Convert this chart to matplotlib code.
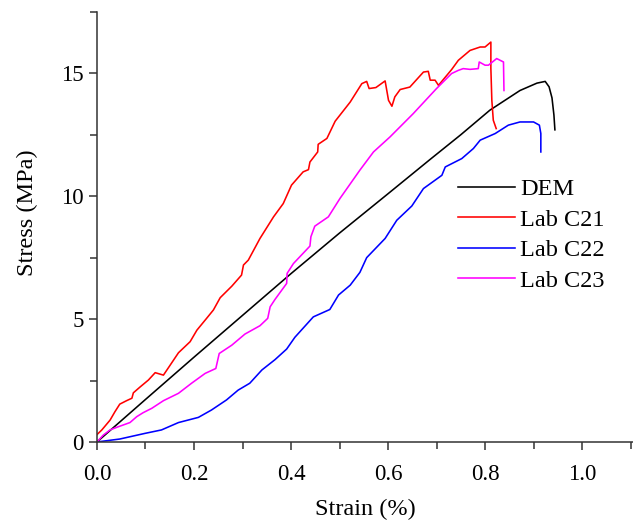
import matplotlib.pyplot as plt
from matplotlib.ticker import MultipleLocator

# stress-strain curves: DEM simulation and three lab specimens
dem_strain = [0, 0.1, 0.2, 0.3, 0.4, 0.5, 0.6, 0.687, 0.75, 0.81, 0.872, 0.907,
              0.924, 0.932, 0.938, 0.942, 0.944]
dem_stress = [0, 1.73, 3.45, 5.15, 6.85, 8.5, 10.1, 11.5, 12.5, 13.5, 14.3, 14.6,
              14.67, 14.45, 14.0, 13.3, 12.7]

c21_strain = [0.0, 0.01, 0.027, 0.037, 0.047, 0.061, 0.072, 0.075, 0.089, 0.106,
              0.12, 0.137, 0.151, 0.168, 0.192, 0.206, 0.226, 0.24, 0.254, 0.278,
              0.298, 0.302, 0.312, 0.336, 0.364, 0.384, 0.401, 0.425, 0.436, 0.439,
              0.455, 0.456, 0.474, 0.491, 0.522, 0.546, 0.556, 0.561, 0.575, 0.594,
              0.601, 0.608, 0.614, 0.625, 0.645, 0.673, 0.683, 0.687, 0.697, 0.704,
              0.731, 0.745, 0.769, 0.79, 0.8, 0.812, 0.812, 0.814, 0.817, 0.823]
c21_stress = [0.3, 0.49, 0.89, 1.23, 1.54, 1.68, 1.78, 2.0, 2.24, 2.52,
              2.82, 2.72, 3.13, 3.63, 4.08, 4.55, 5.03, 5.37, 5.87, 6.34,
              6.79, 7.2, 7.4, 8.28, 9.16, 9.7, 10.45, 10.99, 11.08, 11.39,
              11.8, 12.11, 12.35, 13.05, 13.83, 14.58, 14.67, 14.38, 14.42, 14.69,
              13.9, 13.66, 14.04, 14.34, 14.44, 15.05, 15.08, 14.72, 14.72, 14.51,
              15.15, 15.53, 15.93, 16.07, 16.07, 16.27, 15.2, 13.9, 13.09, 12.75]

c22_strain = [0, 0.047, 0.099, 0.133, 0.168, 0.209, 0.236, 0.267, 0.291, 0.315,
              0.34, 0.367, 0.391, 0.408, 0.446, 0.48, 0.498, 0.522, 0.542, 0.556,
              0.594, 0.618, 0.649, 0.673, 0.711, 0.718, 0.752, 0.776, 0.79, 0.821,
              0.848, 0.872, 0.9, 0.912, 0.915, 0.915]
c22_stress = [0, 0.12, 0.35, 0.49, 0.79, 1.0, 1.3, 1.71, 2.11, 2.39,
              2.93, 3.35, 3.78, 4.26, 5.09, 5.39, 5.98, 6.38, 6.9, 7.5,
              8.28, 9.02, 9.6, 10.31, 10.85, 11.19, 11.53, 11.94, 12.28, 12.55,
              12.89, 13.02, 13.02, 12.89, 12.55, 11.8]

c23_strain = [0, 0.013, 0.027, 0.044, 0.068, 0.082, 0.095, 0.113, 0.137, 0.168,
              0.195, 0.223, 0.245, 0.252, 0.278, 0.305, 0.336, 0.352, 0.357, 0.367,
              0.391, 0.392, 0.405, 0.439, 0.441, 0.449, 0.477, 0.501, 0.542, 0.57,
              0.604, 0.652, 0.7, 0.731, 0.745, 0.755, 0.769, 0.786, 0.788, 0.8,
              0.807, 0.824, 0.838, 0.839]
c23_stress = [0, 0.28, 0.49, 0.62, 0.79, 1.03, 1.19, 1.37, 1.68, 1.98,
              2.39, 2.79, 2.99, 3.6, 3.94, 4.39, 4.73, 5.03, 5.5, 5.8,
              6.45, 6.86, 7.26, 7.97, 8.35, 8.78, 9.16, 9.91, 11.06, 11.8,
              12.41, 13.36, 14.38, 14.99, 15.12, 15.19, 15.16, 15.19, 15.46, 15.33,
              15.33, 15.6, 15.46, 14.3]

plt.rcParams['font.family'] = ['Liberation Serif', 'DejaVu Serif']
plt.rcParams['font.size'] = 17.5

fig = plt.figure(figsize=(6.33, 5.22), dpi=100)
ax = fig.add_axes([0.1532, 0.1533, 0.8468, 0.824])

lw = 1.15
ax.plot(dem_strain, dem_stress, color='black', lw=lw, label='DEM')
ax.plot(c21_strain, c21_stress, color='#ff0000', lw=lw, label='Lab C21')
ax.plot(c22_strain, c22_stress, color='#0000ff', lw=lw, label='Lab C22')
ax.plot(c23_strain, c23_stress, color='#ff00ff', lw=lw, label='Lab C23')

ax.set_xlim(0, 1.105)
ax.set_ylim(0, 17.5)
ax.xaxis.set_major_locator(MultipleLocator(0.2))
ax.xaxis.set_minor_locator(MultipleLocator(0.1))
ax.yaxis.set_major_locator(MultipleLocator(5))
ax.yaxis.set_minor_locator(MultipleLocator(2.5))
ax.xaxis.set_major_formatter(plt.FormatStrFormatter('%.1f'))

for side in ['top', 'right']:
    ax.spines[side].set_visible(False)
for side in ['left', 'bottom']:
    ax.spines[side].set_linewidth(1.1)
    ax.spines[side].set_color('#333333')

ax.tick_params(which='major', direction='out', length=6, width=1.1, color='#333333', labelsize=16.5)
ax.tick_params(which='minor', direction='out', length=5, width=1.1, color='#333333')
ax.tick_params(axis='x', pad=10)

ax.set_xlabel('Strain (%)', fontsize=17.5, labelpad=10)
ax.set_ylabel('Stress (MPa)', fontsize=17.5, labelpad=17, y=0.533)

ax.legend(loc='upper left', bbox_to_anchor=(0.655, 0.636), frameon=False,
          handlelength=2.35, handletextpad=0.22, labelspacing=0.35, fontsize=17.5,
          borderaxespad=0)

fig.savefig('out.png', dpi=100)
